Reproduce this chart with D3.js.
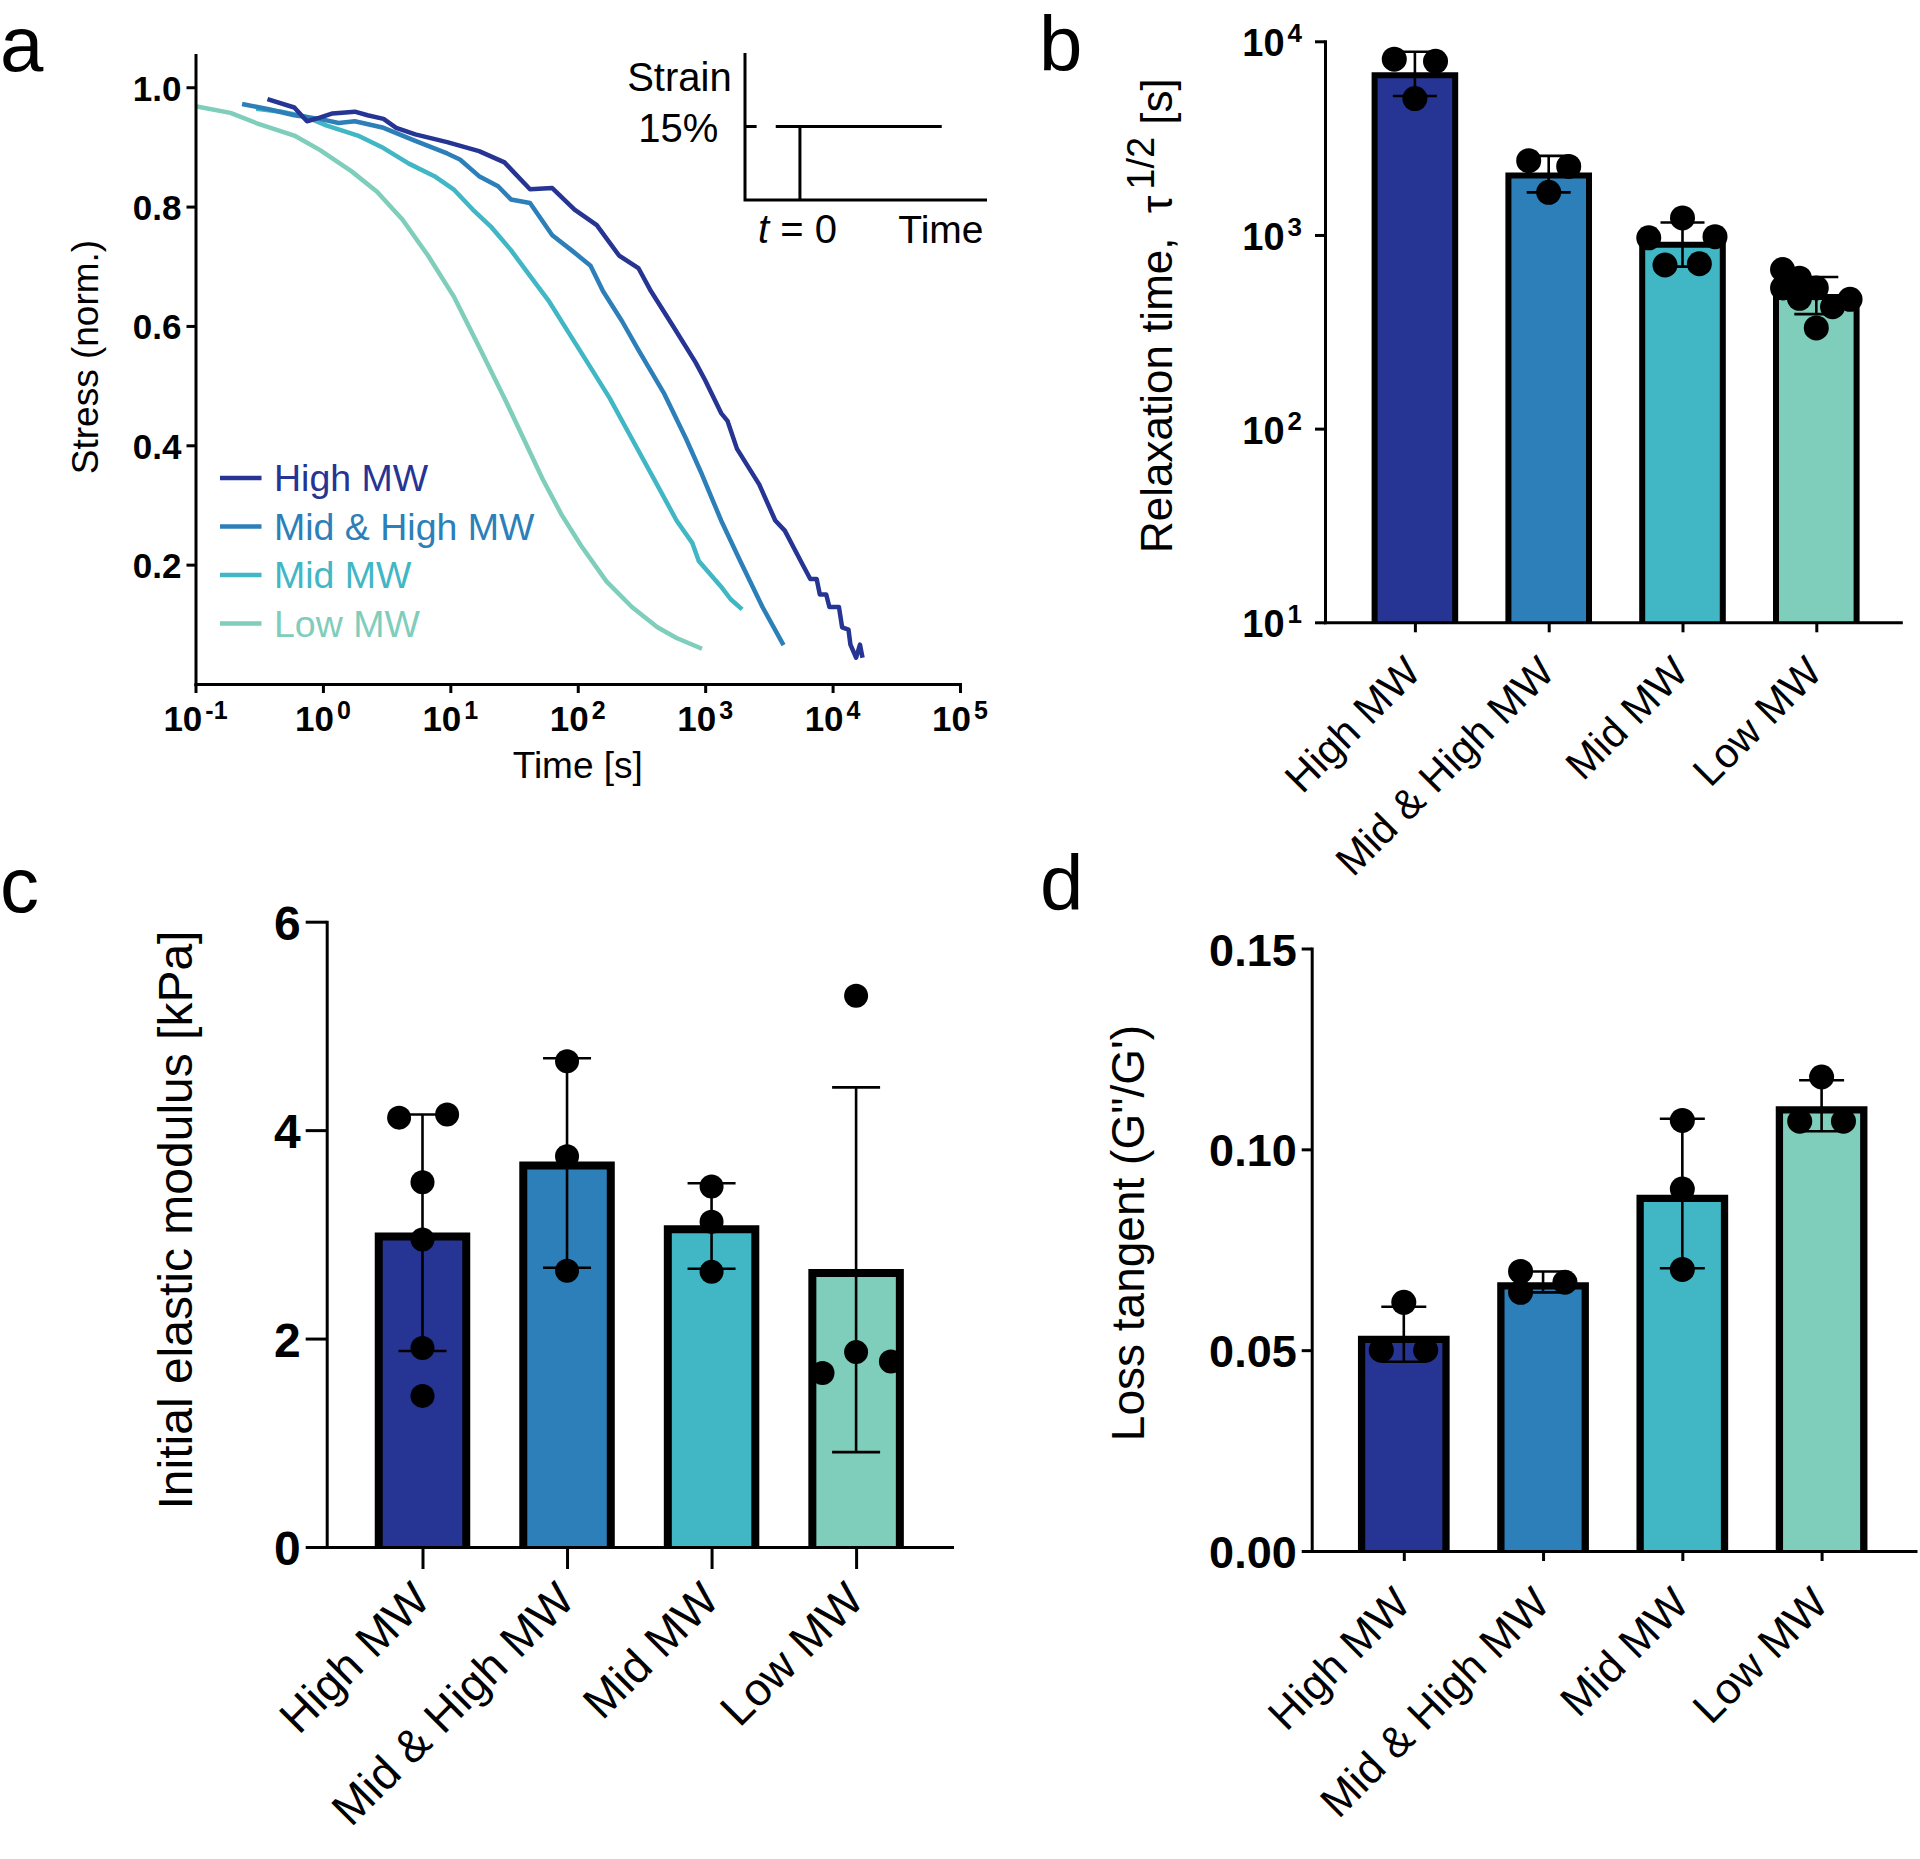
<!DOCTYPE html>
<html><head><meta charset="utf-8">
<script src="https://cdn.jsdelivr.net/npm/d3@7"></script>
<style>
body{margin:0;background:#fff}
svg text{font-family:"Liberation Sans",Arial,Helvetica,sans-serif}
</style>
</head><body>
<svg id="fig" width="1920" height="1859" xmlns="http://www.w3.org/2000/svg"></svg>
<script>
// ================= DATA =================
const categories = ["High MW", "Mid & High MW", "Mid MW", "Low MW"];
const groupColors = ["#263494", "#2c7fb8", "#41b6c4", "#7fcdbb"];

// ---- panel a: stress relaxation curves (time [s], normalised stress)
const timeHigh = [0.367,0.596,0.75,0.944,1.19,1.78,2.24,2.99,3.76,5.31,9.44,16.8,26.6,42.2,63.1,94.4,141,211,299,376,562,841,1000,1334,1496,1778,2661,3548,4217,5623,6683,7499,7943,8913,9441,11220,11885,13335,13804,15311,16406,17179];
const stressHigh = [0.980,0.966,0.943,0.949,0.956,0.959,0.953,0.947,0.932,0.921,0.908,0.893,0.874,0.829,0.831,0.795,0.769,0.718,0.697,0.658,0.599,0.539,0.509,0.454,0.441,0.394,0.334,0.274,0.257,0.206,0.176,0.176,0.150,0.150,0.129,0.129,0.095,0.091,0.066,0.044,0.066,0.044];
const timeMidHigh = [0.232,0.376,0.596,0.944,1.33,1.78,2.99,5.31,9.44,11.9,16.8,23.7,29.9,42.2,63.1,89.1,126,158,224,299,473,708,944,1334,1884,2818,4121];
const stressMidHigh = [0.972,0.963,0.953,0.947,0.940,0.943,0.932,0.910,0.889,0.879,0.851,0.834,0.812,0.806,0.752,0.727,0.701,0.658,0.607,0.560,0.488,0.411,0.351,0.274,0.206,0.129,0.065];
const timeMid = [0.299,0.473,0.75,1.06,1.88,2.99,4.73,7.5,10.6,15.0,21.1,29.9,42.2,59.6,84.1,119,178,266,398,596,794,891,1334,1585,1950];
const stressMid = [0.964,0.959,0.950,0.936,0.919,0.898,0.872,0.851,0.829,0.795,0.765,0.727,0.684,0.641,0.590,0.539,0.479,0.411,0.343,0.274,0.236,0.206,0.163,0.142,0.125];
const timeLow = [0.1,0.188,0.299,0.596,0.944,1.68,2.66,4.22,6.68,10.6,16.8,26.6,37.6,53.1,75.0,106,168,266,422,596,944];
const stressLow = [0.968,0.957,0.940,0.919,0.895,0.859,0.825,0.778,0.718,0.650,0.565,0.479,0.411,0.343,0.283,0.232,0.172,0.129,0.095,0.077,0.059];
const aXTickExps = [-1, 0, 1, 2, 3, 4, 5];
const aYTicks = [0.2, 0.4, 0.6, 0.8, 1.0];

// ---- panel b: relaxation time (log)
const relaxMean = [6680, 2030, 890, 478];
const relaxUpper = [8830, 2560, 1160, 607];
const relaxLower = [5220, 1660, 686, 390];
const relaxPoints = [[8090, 7880, 5060], [2420, 2260, 1660], [967, 1225, 980, 700, 710], [663, 598, 533, 533, 471, 426, 465, 331]];
const relaxJitter = [[-1.65, 1.65, 0], [-1.6, 1.6, 0], [-2.7, 0, 2.6, -1.4, 1.35], [-2.7, -1.35, -2.7, 0, -1.35, 1.3, 2.7, 0]];
const bYTickExps = [1, 2, 3, 4];

// ---- panel c: initial elastic modulus [kPa]
const modMean = [2.98, 3.66, 3.05, 2.63];
const modUpper = [4.15, 4.69, 3.49, 4.41];
const modLower = [1.88, 2.68, 2.67, 0.91];
const modPoints = [[4.12, 4.15, 3.50, 2.95, 1.91, 1.45], [4.66, 3.75, 2.65], [3.46, 3.12, 2.64], [5.29, 1.87, 1.67, 1.78]];
const modJitter = [[-1.95, 2.05, 0, 0, 0, 0], [0, 0, 0], [0, 0, 0], [0, 0, -2.8, 2.9]];
const cYTicks = [0, 2, 4, 6];

// ---- panel d: loss tangent
const tanMean = [0.0527, 0.0660, 0.0878, 0.1098];
const tanUpper = [0.0608, 0.0696, 0.1076, 0.1172];
const tanLower = [0.0471, 0.0644, 0.0704, 0.1045];
const tanPoints = [[0.0619, 0.0500, 0.0500], [0.0696, 0.0644, 0.0669], [0.1072, 0.0901, 0.0701], [0.1180, 0.1070, 0.1070]];
const tanJitter = [[0, -1.8, 1.75], [-1.8, -1.8, 1.75], [0, 0, 0], [0, -1.75, 1.75]];
const dYTicks = [0, 0.05, 0.10, 0.15];

// ================= DRAWING =================
const svg = d3.select("#fig");
const FONT = '"Liberation Sans", Arial, Helvetica, sans-serif';

function styleAxis(g, sw) {
  g.attr("font-family", FONT);
  g.select(".domain").attr("stroke", "#000").attr("stroke-width", sw).attr("stroke-linecap", "square");
  g.selectAll(".tick line").attr("stroke", "#000").attr("stroke-width", sw);
  g.selectAll(".tick text").attr("fill", "#000").attr("font-weight", "bold");
}

function panelLetter(txt, x, y) {
  svg.append("text").attr("x", x).attr("y", y).attr("font-size", 78).attr("fill", "#000").text(txt);
}

// ---------- panel a ----------
panelLetter("a", 0, 71);
const aX = d3.scaleLog().domain([0.1, 1e5]).range([195.5, 960]);
const aY = d3.scaleLinear().domain([0, 1.054]).range([684, 55]);
const gA = svg.append("g");
const seriesA = [
  {t: timeLow, s: stressLow, c: groupColors[3]},
  {t: timeMid, s: stressMid, c: groupColors[2]},
  {t: timeMidHigh, s: stressMidHigh, c: groupColors[1]},
  {t: timeHigh, s: stressHigh, c: groupColors[0]}
];
const lineA = d3.line().x(d => aX(d[0])).y(d => aY(d[1]));
seriesA.forEach(s => {
  gA.append("path").attr("d", lineA(d3.zip(s.t, s.s)))
    .attr("fill", "none").attr("stroke", s.c).attr("stroke-width", 4.5)
    .attr("stroke-linejoin", "round").attr("stroke-linecap", "butt");
});
const axAx = gA.append("g").attr("transform", `translate(0,${aY(0)})`)
  .call(d3.axisBottom(aX).tickValues(aXTickExps.map(e => Math.pow(10, e))).tickSize(9).tickSizeOuter(0).tickFormat(""));
styleAxis(axAx, 3);
const axAy = gA.append("g").attr("transform", `translate(${aX(0.1)},0)`)
  .call(d3.axisLeft(aY).tickValues(aYTicks).tickSize(9).tickSizeOuter(0).tickPadding(5).tickFormat(d3.format(".1f")));
styleAxis(axAy, 3);
axAy.selectAll(".tick text").attr("font-size", 35).attr("dy", "0.37em");
aXTickExps.forEach(e => {
  const t = gA.append("text").attr("x", aX(Math.pow(10, e))).attr("y", aY(0) + 47)
    .attr("text-anchor", "middle").attr("font-weight", "bold").attr("font-size", 35);
  t.append("tspan").text("10");
  t.append("tspan").attr("font-size", 25).attr("dx", 3).attr("dy", -12).text(String(e));
});
gA.append("text").attr("x", (aX.range()[0] + aX.range()[1]) / 2).attr("y", 778)
  .attr("text-anchor", "middle").attr("font-size", 37).text("Time [s]");
gA.append("text").attr("transform", `translate(98,357) rotate(-90)`)
  .attr("text-anchor", "middle").attr("font-size", 37).text("Stress (norm.)");
// legend
const legY = d3.scalePoint().domain(categories).range([478, 623.5]);
categories.forEach((c, i) => {
  gA.append("line").attr("x1", 220).attr("x2", 261.5).attr("y1", legY(c)).attr("y2", legY(c))
    .attr("stroke", groupColors[i]).attr("stroke-width", 4.5);
  gA.append("text").attr("x", 274).attr("y", legY(c) + 13).attr("font-size", 37.5)
    .attr("fill", groupColors[i]).text(c);
});
// inset schematic
const iX = d3.scaleLinear().domain([0, 1]).range([745, 987]);
const iY = d3.scaleLinear().domain([0, 1]).range([200, 53]);
const inset = gA.append("g").attr("stroke", "#000").attr("stroke-width", 3).attr("fill", "none");
inset.append("path").attr("d", `M${iX(0)},${iY(1)}V${iY(0)}H${iX(1)}`);
inset.append("line").attr("x1", iX(0)).attr("x2", iX(0.048)).attr("y1", iY(0.5)).attr("y2", iY(0.5));
inset.append("line").attr("x1", iX(0.127)).attr("x2", iX(0.813)).attr("y1", iY(0.5)).attr("y2", iY(0.5));
inset.append("line").attr("x1", iX(0.227)).attr("x2", iX(0.227)).attr("y1", iY(0.5)).attr("y2", iY(0));
gA.append("text").attr("x", 731.7).attr("y", 90.7).attr("text-anchor", "end").attr("font-size", 40).text("Strain");
gA.append("text").attr("x", 718.3).attr("y", 141.7).attr("text-anchor", "end").attr("font-size", 40).text("15%");
const t0 = gA.append("text").attr("x", 758).attr("y", 243.3).attr("font-size", 40);
t0.append("tspan").attr("font-style", "italic").text("t");
t0.append("tspan").text(" = 0");
gA.append("text").attr("x", 898.3).attr("y", 243.3).attr("font-size", 39).text("Time");

// ---------- generic bar panel ----------
function pointScale(start, end, first, last) {
  const n = categories.length;
  const step = (last - first) / (n - 1);
  const L = end - start;
  const pad = (L / step - (n - 1)) / 2;
  const align = (first - start) / (L - step * (n - 1));
  return d3.scalePoint().domain(categories).range([start, end]).padding(pad).align(align);
}

function barPanel(cfg) {
  const g = svg.append("g");
  const x = cfg.x, y = cfg.y, y0 = cfg.base;
  const hw = cfg.barW / 2;
  categories.forEach((c, i) => {
    const cx = x(c), top = y(cfg.mean[i]);
    g.append("path")
      .attr("d", `M${cx - hw},${y0}V${top}H${cx + hw}V${y0}Z`)
      .attr("fill", groupColors[i]).attr("stroke", "none");
    g.append("path")
      .attr("d", `M${cx - hw},${y0}V${top}H${cx + hw}V${y0}`)
      .attr("fill", "none").attr("stroke", "#000").attr("stroke-width", cfg.barSW).attr("stroke-linejoin", "miter");
  });
  categories.forEach((c, i) => {
    const cx = x(c);
    const eg = g.append("g").attr("stroke", "#000").attr("stroke-width", 2.6);
    eg.append("line").attr("x1", cx).attr("x2", cx).attr("y1", y(cfg.lower[i])).attr("y2", y(cfg.upper[i]));
    [cfg.lower[i], cfg.upper[i]].forEach(v => {
      eg.append("line").attr("x1", cx - cfg.capW / 2).attr("x2", cx + cfg.capW / 2).attr("y1", y(v)).attr("y2", y(v));
    });
  });
  categories.forEach((c, i) => {
    cfg.points[i].forEach((v, j) => {
      g.append("circle").attr("cx", x(c) + cfg.jitter[i][j] * cfg.r).attr("cy", y(v)).attr("r", cfg.r).attr("fill", "#000");
    });
  });
  const ax = g.append("g").attr("transform", `translate(0,${y0})`)
    .call(d3.axisBottom(x).tickSize(cfg.xTick).tickSizeOuter(0).tickFormat(""));
  styleAxis(ax, 3);
  const ay = g.append("g").attr("transform", `translate(${x.range()[0]},0)`)
    .call(d3.axisLeft(y).tickValues(cfg.yTicks).tickSize(cfg.yTick).tickSizeOuter(0).tickPadding(5)
      .tickFormat(cfg.yFormat ? cfg.yFormat : ""));
  styleAxis(ay, 3);
  ay.selectAll(".tick text").attr("font-size", cfg.yFont).attr("dy", cfg.yDy);
  categories.forEach(c => {
    g.append("text")
      .attr("transform", `translate(${x(c) + cfg.lblDx},${y0 + cfg.lblDy}) rotate(-45)`)
      .attr("text-anchor", "end").attr("font-size", cfg.lblFont).text(c);
  });
  return g;
}

// ---------- panel b ----------
panelLetter("b", 1039, 71);
const bX = pointScale(1325, 1900.8, 1414.9, 1816.3);
const bY = d3.scaleLog().domain([10, 1e4]).range([622.3, 41.3]);
const gB = barPanel({x: bX, y: bY, base: bY(10), mean: relaxMean, upper: relaxUpper, lower: relaxLower,
  points: relaxPoints, jitter: relaxJitter, r: 12.5, barW: 80.6, barSW: 6, capW: 44,
  xTick: 10, yTick: 10, yTicks: bYTickExps.map(e => Math.pow(10, e)), yFormat: null, yFont: 36, yDy: "0.35em",
  lblDx: 8, lblDy: 52, lblFont: 41.5});
bYTickExps.forEach(e => {
  const t = gB.append("text").attr("x", 1302).attr("y", bY(Math.pow(10, e)) + 15)
    .attr("text-anchor", "end").attr("font-weight", "bold").attr("font-size", 38);
  t.append("tspan").text("10");
  t.append("tspan").attr("font-size", 26).attr("dx", 3).attr("dy", -14).text(String(e));
});
const bLab = gB.append("text").attr("transform", `translate(1172,553) rotate(-90)`)
  .attr("font-size", 44).style("white-space", "pre");
bLab.append("tspan").text("Relaxation time,  \u03c4");
bLab.append("tspan").attr("font-size", 38).attr("dx", 6).attr("dy", -18).text("1/2");
bLab.append("tspan").attr("dy", 18).text(" [s]");

// ---------- panel c ----------
panelLetter("c", 0, 912);
const cX = pointScale(326.7, 952, 422.5, 856.1);
const cY = d3.scaleLinear().domain([0, 6]).range([1547, 921.7]);
const gC = barPanel({x: cX, y: cY, base: cY(0), mean: modMean, upper: modUpper, lower: modLower,
  points: modPoints, jitter: modJitter, r: 12, barW: 87.5, barSW: 8, capW: 48,
  xTick: 22, yTick: 21, yTicks: cYTicks, yFormat: d3.format("d"), yFont: 48, yDy: "0.37em",
  lblDx: 10, lblDy: 55, lblFont: 46});
gC.append("text").attr("transform", `translate(192,1220) rotate(-90)`)
  .attr("text-anchor", "middle").attr("font-size", 48).text("Initial elastic modulus [kPa]");

// ---------- panel d ----------
panelLetter("d", 1040, 910);
const dX = pointScale(1311.7, 1915.5, 1403.8, 1821.6);
const dY = d3.scaleLinear().domain([0, 0.15]).range([1551, 948.5]);
const gD = barPanel({x: dX, y: dY, base: dY(0), mean: tanMean, upper: tanUpper, lower: tanLower,
  points: tanPoints, jitter: tanJitter, r: 12.5, barW: 84.4, barSW: 7.3, capW: 45,
  xTick: 10, yTick: 10, yTicks: dYTicks, yFormat: d3.format(".2f"), yFont: 45, yDy: "0.37em",
  lblDx: 9, lblDy: 55, lblFont: 43.5});
gD.append("text").attr("transform", `translate(1144,1233) rotate(-90)`)
  .attr("text-anchor", "middle").attr("font-size", 46).text("Loss tangent (G\"/G')");
</script>
</body></html>
